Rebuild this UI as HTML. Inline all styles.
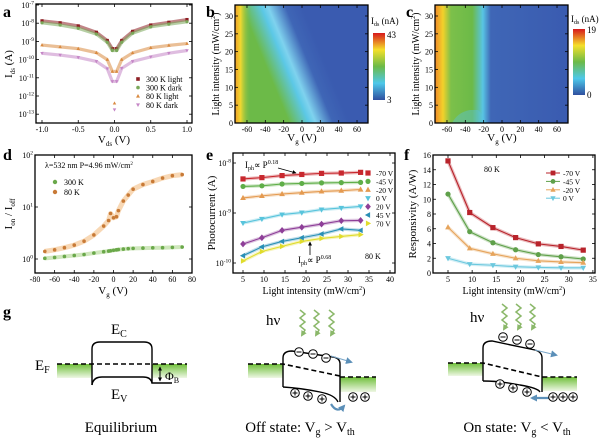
<!DOCTYPE html>
<html><head><meta charset="utf-8"><style>
html,body{margin:0;padding:0;background:#fff;}
svg, svg text{font-family:"Liberation Serif","Times New Roman",serif;}
</style></head><body>
<svg id="fig" width="600" height="439" viewBox="0 0 600 439" xmlns="http://www.w3.org/2000/svg" font-family="Liberation Serif, serif">
<defs>
<linearGradient id="gband" x1="0" y1="0" x2="0" y2="1"><stop offset="0" stop-color="#6fbf3a"/><stop offset="1" stop-color="#eef7e4"/></linearGradient>
<linearGradient id="gb" gradientUnits="userSpaceOnUse" x1="250" y1="64" x2="314.8" y2="37.4">
<stop offset="0" stop-color="#6cba48"/><stop offset="0.2" stop-color="#6cba48"/><stop offset="0.46" stop-color="#5cc8e6"/><stop offset="0.55" stop-color="#7fd2ee"/><stop offset="0.78" stop-color="#3f66b6"/><stop offset="1" stop-color="#3a5bb0"/></linearGradient>
<linearGradient id="gc" x1="0" y1="0" x2="1" y2="0">
<stop offset="0" stop-color="#f08a2a"/><stop offset="0.06" stop-color="#f2d12a"/><stop offset="0.12" stop-color="#7cc04a"/><stop offset="0.28" stop-color="#6cba48"/><stop offset="0.36" stop-color="#58c4e4"/><stop offset="0.42" stop-color="#3f66b6"/><stop offset="1" stop-color="#3a5bb0"/></linearGradient>
<linearGradient id="gedge" x1="0" y1="0" x2="1" y2="0"><stop offset="0" stop-color="#f0a02a"/><stop offset="0.35" stop-color="#f0d830"/><stop offset="1" stop-color="#6cba48" stop-opacity="0"/></linearGradient>
<linearGradient id="gcb" x1="0" y1="0" x2="0" y2="1"><stop offset="0" stop-color="#d7191c"/><stop offset="0.25" stop-color="#f5e02a"/><stop offset="0.5" stop-color="#6cba48"/><stop offset="0.75" stop-color="#4ec8ea"/><stop offset="1" stop-color="#2f4f9f"/></linearGradient>
<marker id="ah" markerUnits="userSpaceOnUse" markerWidth="6" markerHeight="6" refX="5" refY="3" orient="auto"><path d="M0,0 L6,3 L0,6 z" fill="#000"/></marker>
<marker id="ahs" markerUnits="userSpaceOnUse" markerWidth="4" markerHeight="4" refX="3.5" refY="2" orient="auto-start-reverse"><path d="M0,0 L4,2 L0,4 z" fill="#000"/></marker>
<marker id="ahb" markerUnits="userSpaceOnUse" markerWidth="7" markerHeight="7" refX="5" refY="3.5" orient="auto"><path d="M0,0 L7,3.5 L0,7 z" fill="#5b8fb8"/></marker>
<marker id="ahg" markerUnits="userSpaceOnUse" markerWidth="6" markerHeight="6" refX="4" refY="3" orient="auto"><path d="M0,0 L6,3 L0,6 z" fill="#8bb86a"/></marker>
</defs>

<g font-weight="bold" font-size="16">
<text x="3" y="17">a</text>
<text x="206" y="17">b</text>
<text x="406" y="17">c</text>
<text x="3" y="160">d</text>
<text x="206" y="160">e</text>
<text x="404" y="160">f</text>
<text x="3" y="317">g</text>
</g>

<g>
<rect x="235" y="5" width="133" height="118" fill="url(#gb)"/>
<rect x="235" y="5" width="16" height="118" fill="url(#gedge)"/>
</g>
<g>
<rect x="435" y="5" width="133" height="118" fill="url(#gc)"/>
<path d="M452 123 Q458 112 470 110 L478 110 Q483 114 486 123 Z" fill="#58c4e4" opacity="0.4"/>
</g>
<rect x="373" y="33" width="12" height="67" fill="url(#gcb)"/>
<rect x="573" y="29" width="12" height="66" fill="url(#gcb)"/>
<g font-size="9">
<text x="371" y="24">I<tspan font-size="6" dy="2">ds</tspan><tspan dy="-2"> (nA)</tspan></text>
<text x="387" y="38">43</text>
<text x="387" y="103">3</text>
<text x="571" y="22">I<tspan font-size="6" dy="2">ds</tspan><tspan dy="-2"> (nA)</tspan></text>
<text x="587" y="33">19</text>
<text x="587" y="98">0</text>
</g>

<g font-size="11" text-anchor="middle">
<text x="114" y="143">V<tspan font-size="7" dy="3">ds</tspan><tspan dy="-3"> (V)</tspan></text>
<text transform="translate(12,64) rotate(-90)">I<tspan font-size="7" dy="3">ds</tspan><tspan dy="-3"> (A)</tspan></text>
<text x="302" y="141">V<tspan font-size="7" dy="3">g</tspan><tspan dy="-3"> (V)</tspan></text>
<text font-size="10" transform="translate(219,64) rotate(-90)">Light intensity (mW/cm<tspan font-size="6" dy="-4">2</tspan><tspan dy="4">)</tspan></text>
<text x="502" y="141">V<tspan font-size="7" dy="3">g</tspan><tspan dy="-3"> (V)</tspan></text>
<text font-size="10" transform="translate(419,64) rotate(-90)">Light intensity (mW/cm<tspan font-size="6" dy="-4">2</tspan><tspan dy="4">)</tspan></text>
<text x="113" y="294">V<tspan font-size="7" dy="3">g</tspan><tspan dy="-3"> (V)</tspan></text>
<text transform="translate(12,214) rotate(-90)">I<tspan font-size="7" dy="3">on</tspan><tspan dy="-3"> / I</tspan><tspan font-size="7" dy="3">off</tspan></text>
<text font-size="10" x="314" y="294">Light intensity (mW/cm<tspan font-size="6" dy="-4">2</tspan><tspan dy="4">)</tspan></text>
<text transform="translate(215,213) rotate(-90)">Photocurrent (A)</text>
<text font-size="10" x="514" y="294">Light intensity (mW/cm<tspan font-size="6" dy="-4">2</tspan><tspan dy="4">)</tspan></text>
<text transform="translate(416,214) rotate(-90)">Responsivity (A/W)</text>
</g>

<g font-size="8">
<text x="45" y="168">λ=532 nm   P=4.96 mW/cm<tspan font-size="5" dy="-3">2</tspan></text>
<text x="365" y="259">80 K</text>
<text x="484" y="172">80 K</text>
<text x="245" y="168" font-size="9">I<tspan font-size="6" dy="2">ph</tspan><tspan dy="-2">∝ P</tspan><tspan font-size="6" dy="-4">0.18</tspan></text>
<text x="298" y="263" font-size="9">I<tspan font-size="6" dy="2">ph</tspan><tspan dy="-2">∝ P</tspan><tspan font-size="6" dy="-4">0.68</tspan></text>
</g>
<line x1="278" y1="168" x2="296" y2="173" stroke="#000" stroke-width="0.8" marker-end="url(#ahs)"/>
<line x1="310" y1="255" x2="310" y2="242" stroke="#000" stroke-width="0.8" marker-end="url(#ahs)"/>

<g fill="none" stroke="#000" stroke-width="1.4">
<rect x="57" y="364" width="35" height="14" fill="url(#gband)" stroke="none"/>
<rect x="152" y="364" width="35" height="14" fill="url(#gband)" stroke="none"/>
<path d="M57 364 H187" stroke-dasharray="5 3" stroke-width="1.6"/>
<path d="M92 385 V349 Q92 342 100 342 H144 Q152 342 152 349 V383 H172"/>
<path d="M92 385 Q93 377 102 377 H143 Q151 377 152 383"/>
<line x1="160" y1="367" x2="160" y2="381" stroke-width="1" marker-end="url(#ahs)" marker-start="url(#ahs)"/>
</g>
<g font-size="15">
<text x="111" y="334">E<tspan font-size="10" dy="3">C</tspan></text>
<text x="35" y="370">E<tspan font-size="10" dy="3">F</tspan></text>
<text x="111" y="399">E<tspan font-size="10" dy="3">V</tspan></text>
<text x="165" y="380" font-size="12">Φ<tspan font-size="8" dy="3">B</tspan></text>
<text x="121" y="432" text-anchor="middle">Equilibrium</text>
<text x="300" y="432" text-anchor="middle">Off state: V<tspan font-size="10" dy="3">g</tspan><tspan dy="-3"> &gt; V</tspan><tspan font-size="10" dy="3">th</tspan></text>
<text x="517" y="432" text-anchor="middle">On state: V<tspan font-size="10" dy="3">g</tspan><tspan dy="-3"> &lt; V</tspan><tspan font-size="10" dy="3">th</tspan></text>
<text x="266" y="325">hν</text>
<text x="470" y="322">hν</text>
</g>
<g fill="none" stroke="#000" stroke-width="1.4">
<rect x="248" y="364" width="35" height="14" fill="url(#gband)" stroke="none"/>
<rect x="340" y="377" width="36" height="15" fill="url(#gband)" stroke="none"/>
<path d="M248 364 H283 L340 376" stroke-dasharray="5 3" stroke-width="1.6"/>
<path d="M340 377 H376" stroke-dasharray="5 3" stroke-width="1.6"/>
<path d="M283 387 V358 Q283 351 292 351 L333 357 Q340 358 340 364 V402"/>
<path d="M283 387 Q300 388 320 392 Q335 395 338 402"/>
<path d="M331 404 Q337 414 344 406" stroke="#5b8fb8" stroke-width="2.2" marker-end="url(#ahb)"/>
<line x1="331" y1="356" x2="351" y2="362" stroke="#7aa6c8" stroke-width="1.1" marker-end="url(#ahb)"/>
<g stroke="#8bb86a" stroke-width="1.5">
<path d="M300 310 l5 4 l-5 4 l5 4 l-5 4 l5 4 l-3 5" marker-end="url(#ahg)"/>
<path d="M314 310 l5 4 l-5 4 l5 4 l-5 4 l5 4 l-3 5" marker-end="url(#ahg)"/>
<path d="M329 310 l5 4 l-5 4 l5 4 l-5 4 l5 4 l-3 5" marker-end="url(#ahg)"/>
</g>
</g>
<g fill="none" stroke="#000" stroke-width="1.4">
<rect x="448" y="363" width="35" height="13" fill="url(#gband)" stroke="none"/>
<rect x="542" y="377" width="35" height="14" fill="url(#gband)" stroke="none"/>
<path d="M448 363 H483 L542 377 H577" stroke-dasharray="5 3" stroke-width="1.6"/>
<path d="M483 381 V348 Q483 341 492 341 L535 350 Q542 352 542 358 V392"/>
<path d="M483 381 Q500 381 520 385 Q538 388 540 392"/>
<line x1="535" y1="350" x2="556" y2="355" stroke="#7aa6c8" stroke-width="1.1" marker-end="url(#ahb)"/>
<line x1="549" y1="398" x2="532" y2="398" stroke="#5b8fb8" stroke-width="2.2" marker-end="url(#ahb)"/>
<g stroke="#8bb86a" stroke-width="1.5">
<path d="M502 304 l5 4 l-5 4 l5 4 l-5 4 l5 4 l-3 5" marker-end="url(#ahg)"/>
<path d="M516 304 l5 4 l-5 4 l5 4 l-5 4 l5 4 l-3 5" marker-end="url(#ahg)"/>
<path d="M530 304 l5 4 l-5 4 l5 4 l-5 4 l5 4 l-3 5" marker-end="url(#ahg)"/>
</g>
</g>
<g id="charges"></g>
<g id="plots"></g>
</svg>
<script>
// ---------- data ----------
const aVds = [-1,-0.75,-0.5,-0.25,-0.1,-0.03,0.03,0.1,0.25,0.5,0.75,1];
const aLog300Light = [-7.87,-7.98,-8.15,-8.5,-8.95,-9.4,-9.4,-8.95,-8.45,-8.1,-7.95,-7.8];
const aLog300Dark = [-7.98,-8.1,-8.28,-8.6,-9.05,-9.5,-9.5,-9.05,-8.55,-8.2,-8.05,-7.92];
const aLog80Light = [-9.2,-9.3,-9.4,-9.62,-10.0,-10.65,-10.65,-10.0,-9.63,-9.35,-9.22,-9.12];
const aLog80Dark = [-9.65,-9.75,-9.88,-10.1,-10.5,-11.2,-11.2,-10.48,-10.1,-9.85,-9.65,-9.5];
const aZeroLog = [-12.4,-12.75];
const aXTicks = [-1,-0.5,0,0.5,1];
const aXTickLabels = ['-1.0','-0.5','0.0','0.5','1.0'];
const aYTicks = [-7,-8,-9,-10,-11,-12,-13];
const aLegend = ['300 K  light','300 K  dark','80 K  light','80 K  dark'];

const hmXTicks = [-60,-40,-20,0,20,40,60];
const hmYTicks = [0,5,10,15,20,25,30];

const dVg = [-70,-60,-50,-40,-30,-20,-10,-5,-3,0,3,5,10,15,20,30,40,50,60,70];
const d80K = [1.4,1.5,1.65,1.85,2.2,2.9,4.3,5.5,7.5,6.2,6.5,8.5,13,17,22,27,31,36,40,42];
const d300K = [1.03,1.07,1.12,1.17,1.22,1.3,1.38,1.42,1.44,1.47,1.5,1.52,1.55,1.58,1.6,1.62,1.64,1.65,1.67,1.7];
const dXTicks = [-80,-60,-40,-20,0,20,40,60,80];
const dYTicks = [0,1,2];

const ePower = [5,9.5,14.3,19,23.7,28.4,33];
const eSeriesNames = ['-70 V','-45 V','-20 V','0 V','20 V','45 V','70 V'];
const eM70 = [4.8e-9,5.1e-9,5.6e-9,5.9e-9,6.2e-9,6.3e-9,6.5e-9];
const eM45 = [3.4e-9,3.5e-9,3.8e-9,3.9e-9,4.0e-9,4.05e-9,4.1e-9];
const eM20 = [2.0e-9,2.2e-9,2.4e-9,2.55e-9,2.7e-9,2.8e-9,2.95e-9];
const e0 = [6.3e-10,7.6e-10,9.3e-10,1.02e-9,1.17e-9,1.26e-9,1.35e-9];
const eP20 = [2.4e-10,3.2e-10,4.5e-10,5.2e-10,6.0e-10,7.0e-10,7.1e-10];
const eP45 = [1.4e-10,2.1e-10,2.7e-10,3.2e-10,3.8e-10,4.8e-10,4.5e-10];
const eP70 = [1.1e-10,1.7e-10,2.15e-10,2.7e-10,3.1e-10,3.4e-10,3.7e-10];
const eXTicks = [5,10,15,20,25,30,35,40];
const eYTicks = [-8,-9,-10];

const fPower = [5,9.5,14.3,19,23.7,28.4,33];
const fNames = ['-70 V','-45 V','-20 V','0 V'];
const fM70 = [15.2,8.2,6.15,4.8,3.95,3.6,3.1];
const fM45 = [10.7,5.6,4.1,3.15,2.5,2.2,1.9];
const fM20 = [6.2,3.35,2.6,2.0,1.65,1.5,1.4];
const f0 = [2.0,1.2,1.05,0.85,0.75,0.7,0.7];
const fXTicks = [5,10,15,20,25,30,35];
const fYTicks = [0,2,4,6,8,10,12,14,16];

// ---------- helpers ----------
const NS = 'http://www.w3.org/2000/svg';
const root = document.getElementById('plots');
function mk(tag, attrs, parent){const e=document.createElementNS(NS,tag);for(const k in attrs)e.setAttribute(k,attrs[k]);(parent||root).appendChild(e);return e;}
function marker(shape,x,y,s,color,parent){
  let e;
  if(shape==='circle') e=mk('circle',{cx:x,cy:y,r:s,fill:color},parent);
  else if(shape==='square') e=mk('rect',{x:x-s,y:y-s,width:2*s,height:2*s,fill:color},parent);
  else {
    let p;
    if(shape==='up') p=[[0,-s*1.2],[s*1.1,s*0.8],[-s*1.1,s*0.8]];
    else if(shape==='down') p=[[0,s*1.2],[s*1.1,-s*0.8],[-s*1.1,-s*0.8]];
    else if(shape==='diamond') p=[[0,-s*1.3],[s*1.1,0],[0,s*1.3],[-s*1.1,0]];
    else if(shape==='left') p=[[-s*1.2,0],[s*0.8,-s*1.1],[s*0.8,s*1.1]];
    else p=[[s*1.2,0],[-s*0.8,-s*1.1],[-s*0.8,s*1.1]];
    e=mk('polygon',{points:p.map(q=>(x+q[0])+','+(y+q[1])).join(' '),fill:color},parent);
  }
  return e;
}
function frame(x0,y0,x1,y1,name){
  const r=mk('rect',{x:x0,y:y0,width:x1-x0,height:y1-y0,fill:'none',stroke:'#000','stroke-width':1.3});
  
  
}
function xTick(x,yb,yt,label,name,len){
  mk('line',{x1:x,y1:yb,x2:x,y2:yb-(len||3),stroke:'#000','stroke-width':0.8});
  mk('line',{x1:x,y1:yt,x2:x,y2:yt+(len||3),stroke:'#000','stroke-width':0.8});
  const t=mk('text',{x:x,y:yb+9,'font-size':8,'text-anchor':'middle'});
  t.textContent=label;
  
  
}
function yTick(y,xl,xr,label,name,sup){
  mk('line',{x1:xl,y1:y,x2:xl+3,y2:y,stroke:'#000','stroke-width':0.8});
  mk('line',{x1:xr,y1:y,x2:xr-3,y2:y,stroke:'#000','stroke-width':0.8});
  const t=mk('text',{x:xl-2,y:y+3,'font-size':8,'text-anchor':'end'});
  if(sup!==undefined){t.innerHTML='10<tspan font-size="5.5" dy="-3.5">'+sup+'</tspan>';}
  else t.textContent=label;
  
  
}
function path(xs,ys,color,w,op){
  return mk('polyline',{points:xs.map((x,i)=>x+','+ys[i]).join(' '),fill:'none',stroke:color,'stroke-width':w,'stroke-opacity':op===undefined?1:op,'stroke-linejoin':'round'});
}

// ---------- panel a ----------
const xa=v=>42+(v+1)*72.5, ya=l=>5+(-7-l)*18.2;
const aSeries=[aLog300Light,aLog300Dark,aLog80Light,aLog80Dark];
const aColors=['#8e1f24','#7aa85a','#d98a40','#c586c6'];
const aShapes=['square','circle','up','down'];
aSeries.forEach((s,k)=>{
  const g=mk('g',{});
  
  
  path(aVds.map(xa),s.map(ya),aColors[k],3.2,0.55);
  aVds.forEach((v,i)=>{
    const m=marker(aShapes[k],xa(v),ya(s[i]),1.6,aColors[k],g);
    
    
  });
});
aZeroLog.forEach((l,i)=>{
  const m=marker(i?'down':'up',xa(0),ya(l),1.6,aColors[2+i]);
  
  
});
frame(36,4,192,123,'a-plot-frame');
aXTicks.forEach((v,i)=>xTick(xa(v),123,4,aXTickLabels[i],'a-x-tick'));
aYTicks.forEach(l=>yTick(ya(l),36,192,'','a-y-tick',String(l)));
aLegend.forEach((s,i)=>{
  const y=79+i*8.6;
  const m=marker(aShapes[i],138,y,1.8,aColors[i]);
  
  
  const t=mk('text',{x:146,y:y+3,'font-size':8});
  t.textContent=s;
  
  
});

// ---------- panels b,c ----------
[0,200].forEach((off,k)=>{
  const xb=v=>off+302+0.917*v, yb=L=>123-L*3.567;
  frame(off+235,5,off+368,123,k?'c-plot-frame':'b-plot-frame');
  hmXTicks.forEach(v=>xTick(xb(v),123,5,String(v),k?'c-x-tick':'b-x-tick'));
  hmYTicks.forEach(L=>yTick(yb(L),off+235,off+368,String(L),k?'c-y-tick':'b-y-tick'));
});

// ---------- panel d ----------
const xd=v=>35+(v+80)*157/160, yd=r=>259-Math.log10(r)*52;
path(dVg.map(xd),d80K.map(yd),'#f2b26c',5,0.5);
path(dVg.map(xd),d300K.map(yd),'#9fd07a',4,0.5);
dVg.forEach((v,i)=>{
  const m1=marker('circle',xd(v),yd(d80K[i]),1.8,'#c87a36');
  
  
  const m2=marker('circle',xd(v),yd(d300K[i]),1.8,'#6aa84a');
  
  
});
frame(35,155,192,273,'d-plot-frame');
dXTicks.forEach(v=>xTick(xd(v),273,155,String(v),'d-x-tick'));
dYTicks.forEach(p=>yTick(259-p*52,35,192,'','d-y-tick',String(p)));
[['300 K','#6aa84a',182],['80 K','#c87a36',192]].forEach(a=>{
  const m=marker('circle',55,a[2],2.2,a[1]);
  
  
  const t=mk('text',{x:64,y:a[2]+3,'font-size':8});
  t.textContent=a[0];
  
  
});

// ---------- panel e ----------
const xe=p=>243+(p-5)*4.2, ye=v=>163+(-8-Math.log10(v))*50;
const eSeries=[eM70,eM45,eM20,e0,eP20,eP45,eP70];
const eColors=['#c8282e','#5fae48','#e49a50','#58c4dc','#8e3f98','#2a8fb5','#e0dc2c'];
const eShapes=['square','circle','up','down','diamond','left','right'];
eSeries.forEach((s,k)=>{
  path(ePower.map(xe),s.map(ye),eColors[k],3.5,0.3);
  const ln=path(ePower.map(xe),s.map(ye),eColors[k],1.1);
  
  
  ePower.forEach((p,i)=>{
    const m=marker(eShapes[k],xe(p),ye(s[i]),2.6,eColors[k]);
    
    
  });
  const y=173+k*8.4;
  const lm=marker(eShapes[k],368,y,2.6,eColors[k]);
  
  
  const t=mk('text',{x:376,y:y+3,'font-size':7.5});
  t.textContent=eSeriesNames[k];
  
  
});
frame(233,153,395,273,'e-plot-frame');
eXTicks.forEach(p=>xTick(xe(p),273,153,String(p),'e-x-tick'));
eYTicks.forEach(l=>yTick(163+(-8-l)*50,233,395,'','e-y-tick',String(l)));

// ---------- panel f ----------
const xf=p=>448+(p-5)*4.83, yf=v=>273-v*7.375;
const fSeries=[fM70,fM45,fM20,f0];
const fColors=['#b8232b','#5fa04a','#e6a45c','#6cc8de'];
const fShapes=['square','circle','up','down'];
fSeries.forEach((s,k)=>{
  path(fPower.map(xf),s.map(yf),fColors[k],3.5,0.3);
  const ln=path(fPower.map(xf),s.map(yf),fColors[k],1.1);
  
  
  fPower.forEach((p,i)=>{
    const m=marker(fShapes[k],xf(p),yf(s[i]),2.6,fColors[k]);
    
    
  });
  const y=173+k*8.4;
  mk('line',{x1:546,y1:y,x2:560,y2:y,stroke:fColors[k],'stroke-width':1});
  const lm=marker(fShapes[k],553,y,2.4,fColors[k]);
  
  
  const t=mk('text',{x:563,y:y+3,'font-size':7.5});
  t.textContent=fNames[k];
  
  
});
frame(433,155,595,273,'f-plot-frame');
fXTicks.forEach(p=>xTick(xf(p),273,155,String(p),'f-x-tick'));
fYTicks.forEach(v=>yTick(yf(v),433,595,String(v),'f-y-tick'));

// ---------- charges in panel g ----------
const cg=document.getElementById('charges');
const minusPos=[[299,352],[313,354],[326,358],[503,337],[517,340],[530,344]];
const plusPos=[[295,393],[308,396],[322,399],[353,397],[365,397],[500,384],[513,388],[527,392],[553,397],[563,397],[573,397]];
minusPos.forEach(p=>{
  const g=mk('g',{},cg);
  
  
  mk('circle',{cx:p[0],cy:p[1],r:4.3,fill:'#fff',stroke:'#000','stroke-width':1},g);
  mk('line',{x1:p[0]-2.5,y1:p[1],x2:p[0]+2.5,y2:p[1],stroke:'#000','stroke-width':1},g);
});
plusPos.forEach(p=>{
  const g=mk('g',{},cg);
  
  
  mk('circle',{cx:p[0],cy:p[1],r:4.3,fill:'#fff',stroke:'#000','stroke-width':1},g);
  mk('line',{x1:p[0]-2.5,y1:p[1],x2:p[0]+2.5,y2:p[1],stroke:'#000','stroke-width':1},g);
  mk('line',{x1:p[0],y1:p[1]-2.5,x2:p[0],y2:p[1]+2.5,stroke:'#000','stroke-width':1},g);
});
</script>
</body></html>
